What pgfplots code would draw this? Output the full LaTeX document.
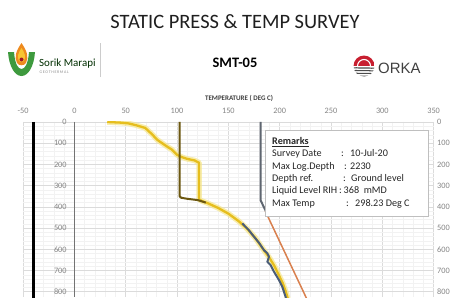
\documentclass[border=0pt]{standalone}
\usepackage{pgfplots}
\pgfplotsset{compat=1.18}
\usepackage{fontspec}
\setmainfont{Carlito}
\newfontfamily\orkafont{Liberation Sans}
\definecolor{tickgray}{HTML}{858585}
\definecolor{ygold}{HTML}{E6BE1E}
\definecolor{yglow}{HTML}{F6E68C}
\definecolor{olive}{HTML}{6B5710}
\definecolor{slate}{HTML}{4B5D78}
\definecolor{vgray}{HTML}{5F6670}
\definecolor{orng}{HTML}{D9804E}
\definecolor{sgreen}{HTML}{3E9A3E}
\definecolor{sorange}{HTML}{EE8A1E}
\definecolor{syellow}{HTML}{F7C531}
\definecolor{orkared}{HTML}{C81F30}
\begin{document}
\begin{tikzpicture}[x=1bp,y=1bp]
\useasboundingbox (0,0) rectangle (467,297);
\fill[white] (0,0) rectangle (467,297);
% header
\node[text=black!88, font=\fontsize{20.5}{22}\selectfont] at (235,275) {STATIC PRESS \& TEMP SURVEY};
\node[text=black, font=\bfseries\fontsize{14.5}{16}\selectfont] at (235,234) {SMT-05};
\node[text=black!75, font=\bfseries\fontsize{7}{8}\selectfont] at (239,199) {TEMPERATURE ( DEG C)};
% Sorik Marapi logo
\fill[sgreen] (8,245) -- (14,245) .. controls (15,233) and (18,228) .. (21.5,228) .. controls (25,228) and (28,233) .. (29,245) -- (35,245) .. controls (34,230) and (28,221) .. (21.5,221) .. controls (15,221) and (9,230) .. (8,245) -- cycle;
\fill[sorange] (21.5,254) .. controls (16,246) and (14,240) .. (17,234) .. controls (19,231) and (24,231) .. (26,234) .. controls (29,240) and (27,246) .. (21.5,254) -- cycle;
\fill[syellow] (21.5,249) .. controls (18,244) and (17,240) .. (19,236) .. controls (20,234.5) and (23,234.5) .. (24,236) .. controls (26,240) and (25,244) .. (21.5,249) -- cycle;
\fill[orkared!80!black] (21.5,237.5) circle (2);
\node[anchor=base west, inner sep=0, text=black!70!green!60!black, font=\fontsize{11}{12}\selectfont] at (39,231) {Sorik Marapi};
\node[anchor=base west, inner sep=0, text=black!45, font=\fontsize{4}{5}\selectfont] at (39.5,224) {G\,E\,O\,T\,H\,E\,R\,M\,A\,L};
\draw[black!20, line width=0.6] (100,220) -- (100,254);
% ORKA logo
\begin{scope}
\clip (364,231) circle (10.5);
\fill[orkared] (353,231) rectangle (375,242);
\fill[white] (353,219) rectangle (375,231);
\foreach \yy in {229,226.3,223.6,220.9} {\draw[black!70, line width=1.1] (353,\yy) .. controls (358,\yy+0.8) and (360,\yy-0.8) .. (364,\yy) .. controls (368,\yy+0.8) and (370,\yy-0.8) .. (375,\yy);}
\draw[white, line width=1.1] (357.5,231) arc (180:0:6.5);
\end{scope}
\node[anchor=base west, inner sep=0, text=black!75, font=\orkafont\fontsize{15}{16}\selectfont] at (378,224) {ORKA};
% main axis
\begin{axis}[at={(22.5,0)}, anchor=south west, scale only axis,
  width=410.5bp, height=175bp,
  xmin=-50, xmax=350, ymin=0, ymax=825, y dir=reverse,
  xtick={-50,0,...,350}, ytick={0,100,...,800},
  minor x tick num=4, minor y tick num=4,
  grid=both, major grid style={draw=black!14, line width=0.5pt},
  minor grid style={draw=black!5, line width=0.4pt},
  axis line style={draw=none}, major tick length=0, minor tick length=0,
  xticklabel pos=top, yticklabel pos=right,
  tick label style={font=\fontsize{8.3}{9}\selectfont, text=tickgray},
  xticklabel style={yshift=5bp},
  /pgf/number format/assume math mode=true,
  extra x ticks={0}, extra x tick labels={},
  extra x tick style={grid=major, major grid style={draw=black!55, line width=0.8bp}},
  clip=true]
\addplot[black, line width=3bp] coordinates {(-40,0) (-40,850)};
\addplot[yglow, line width=5.5bp, opacity=0.7, line join=round] coordinates {
(32,0) (45,3) (52,6) (60,15) (69,28) (75,55) (81,85) (90,115) (95,130) (100,155) (105,166) (110,174) (117,181) (121.5,192) (121.5,365) (124,372) (130,383) (140,405) (150,432) (160,467) (168,502) (176,545) (184,600) (190,640) (195,680) (199,720) (203,760) (206,800) (209,850)};
\addplot[ygold, line width=2.3bp, line join=round] coordinates {
(32,0) (45,3) (52,6) (60,15) (69,28) (75,55) (81,85) (90,115) (95,130) (100,155) (105,166) (110,174) (117,181) (121.5,192) (121.5,365) (124,372) (130,383) (140,405) (150,432) (160,467) (168,502) (176,545) (184,600) (190,640) (195,680) (199,720) (203,760) (206,800) (209,850)};
\addplot[olive, line width=2bp, line join=round] coordinates {
(102.5,0) (102.5,350) (104,357) (110,362) (120,368) (128,380)};
\addplot[vgray, line width=2bp, line join=round] coordinates {
(181.5,0) (181.5,370) (184,395) (187,425)};
\addplot[orng, line width=1.5bp] coordinates {(186,420) (228,850)};
\addplot[slate, line width=2bp, line join=round] coordinates {
(163.6,478) (170,510) (175,541) (180,570) (184.7,604) (188,619) (189.6,635) (188,659) (191.2,675) (194.5,706) (199.3,745) (202.6,777) (205.8,824) (207,850)};
\end{axis}
% left labels axis
\begin{axis}[at={(22.5,0)}, anchor=south west, scale only axis,
  width=410.5bp, height=175bp,
  xmin=-50, xmax=350, ymin=0, ymax=825, y dir=reverse,
  axis x line=none, axis y line=left, axis line style={draw=none},
  ytick={0,100,...,800}, major tick length=0,
  tick label style={font=\fontsize{8.3}{9}\selectfont, text=tickgray},
  yticklabel style={xshift=47bp},
  /pgf/number format/assume math mode=true]
\end{axis}
% remarks box
\draw[black!25, fill=white, line width=0.6] (265,80.3) rectangle (428.3,166.3);
\begin{scope}[every node/.style={anchor=base west, inner sep=0, text=black!85, font=\fontsize{10.2}{12}\selectfont}]
\node at (272,152.5) {\bfseries\underline{Remarks}};
\node at (272,140.2) {Survey Date};
\node at (341,140.2) {:};
\node at (350,140.2) {10-Jul-20};
\node at (272,127.9) {Max Log.Depth};
\node at (344,127.9) {:};
\node at (350,127.9) {2230};
\node at (272,115.6) {Depth ref.};
\node at (343,115.6) {:};
\node at (351,115.6) {Ground level};
\node at (272,103.3) {Liquid Level RIH};
\node at (339,103.3) {:};
\node at (343.5,103.3) {368\ \ mMD};
\node at (272,91) {Max Temp};
\node at (346,91) {:};
\node at (355,91) {298.23 Deg C};
\end{scope}
\end{tikzpicture}
\end{document}
